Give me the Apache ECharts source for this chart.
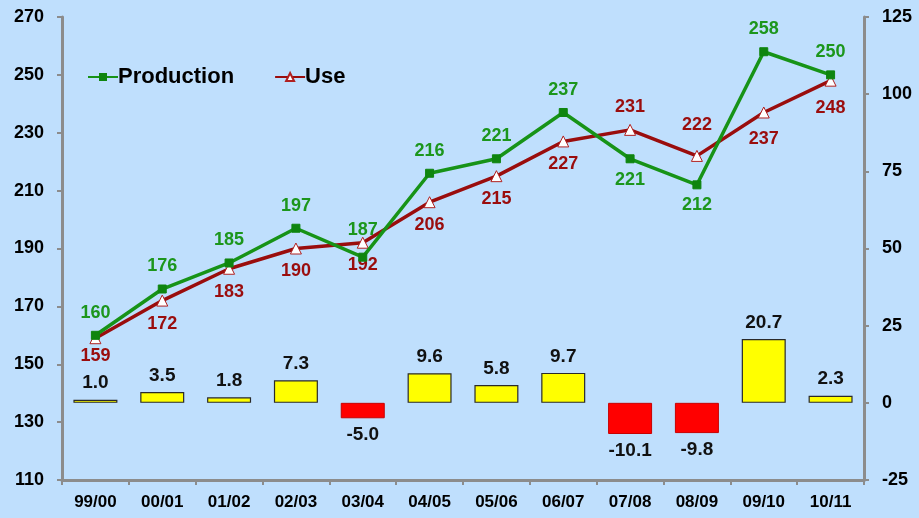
<!DOCTYPE html>
<html><head><meta charset="utf-8">
<script src="https://cdn.jsdelivr.net/npm/echarts@6/dist/echarts.min.js"></script>
<style>html,body{margin:0;padding:0;background:#bfdffd;}#c{width:919px;height:518px;}</style>
</head><body><div id="c"></div>
<script>
const categories = ['99/00','00/01','01/02','02/03','03/04','04/05','05/06','06/07','07/08','08/09','09/10','10/11'];
const production = [160,176,185,197,187,216,221,237,221,212,258,250];
const use = [159,172,183,190,192,206,215,227,231,222,237,248];
const balance = [1.0,3.5,1.8,7.3,-5.0,9.6,5.8,9.7,-10.1,-9.8,20.7,2.3];
const leftTicks = [110,270,20];
const rightTicks = [-25,125,25];

// label placement tweaks (index -> [position, distance])
const prodLabel = {4:['top',14], 8:['bottom',8], 9:['bottom',7]};
const useLabel = {0:['bottom',3], 4:['bottom',7], 8:['top',8], 9:['top',16], 10:['bottom',12], 11:['bottom',12]};

const chart = echarts.init(document.getElementById('c'));
const ff = '"Liberation Sans", Arial, sans-serif';
const axisLine = {show:true, onZero:false, lineStyle:{color:'#8c8c8c', width:3}};
const tick = {show:true, length:5, lineStyle:{color:'#8c8c8c', width:2}};
chart.setOption({
  backgroundColor:'#bfdffd',
  animation:false,
  grid:{left:62, right:55, top:17, bottom:38},
  legend:{
    left:82, top:61, itemGap:40, itemWidth:30, itemHeight:10,
    textStyle:{fontFamily:ff, fontWeight:'bold', fontSize:22, color:'#000', padding:[0,0,0,-5]},
    data:['Production','Use']
  },
  xAxis:{
    type:'category', data:categories, boundaryGap:true,
    axisLine:axisLine, axisTick:tick,
    axisLabel:{fontFamily:ff, fontWeight:'bold', fontSize:17, color:'#000', margin:14, interval:0}
  },
  yAxis:[
    {type:'value', min:leftTicks[0], max:leftTicks[1], interval:leftTicks[2], position:'left',
     axisLine:axisLine, axisTick:tick, splitLine:{show:false},
     axisLabel:{fontFamily:ff, fontWeight:'bold', fontSize:18, color:'#000', margin:18}},
    {type:'value', min:rightTicks[0], max:rightTicks[1], interval:rightTicks[2], position:'right',
     axisLine:axisLine, axisTick:tick, splitLine:{show:false},
     axisLabel:{fontFamily:ff, fontWeight:'bold', fontSize:18, color:'#000', margin:18}}
  ],
  series:[
    {name:'Balance', type:'bar', yAxisIndex:1, barWidth:44,
     data: balance.map(v => ({
       value:v,
       itemStyle: v>=0 ? {color:'#ffff00', borderColor:'#2a2a2a', borderWidth:1.2}
                       : {color:'#ff0000', borderColor:'#c80000', borderWidth:1},
       label:{position: v>=0 ? 'top':'bottom', distance:7}
     })),
     label:{show:true, formatter:p=>p.value.toFixed(1), fontFamily:ff, fontWeight:'bold', fontSize:19, color:'#111'},
     z:1
    },
    {name:'Production', type:'line', yAxisIndex:0,
     data: production.map((v,i)=>{const o=prodLabel[i]||['top',9];return {value:v, label:{position:o[0], distance:o[1]}};}),
     symbol:'rect', symbolSize:8, showAllSymbol:true,
     lineStyle:{color:'#179317', width:3.5},
     itemStyle:{color:'#0f850f', borderColor:'#0f850f'},
     label:{show:true, fontFamily:ff, fontWeight:'bold', fontSize:18, color:'#1c961c'},
     z:3
    },
    {name:'Use', type:'line', yAxisIndex:0,
     data: use.map((v,i)=>{const o=useLabel[i]||['bottom',8];return {value:v, label:{position:o[0], distance:o[1]}};}),
     symbol:'triangle', symbolSize:11, showAllSymbol:true,
     lineStyle:{color:'#9a0d0d', width:3.5},
     itemStyle:{color:'#ffffff', borderColor:'#b02020', borderWidth:1},
     label:{show:true, fontFamily:ff, fontWeight:'bold', fontSize:18, color:'#9a0d0d'},
     z:2
    }
  ]
});
</script></body></html>
